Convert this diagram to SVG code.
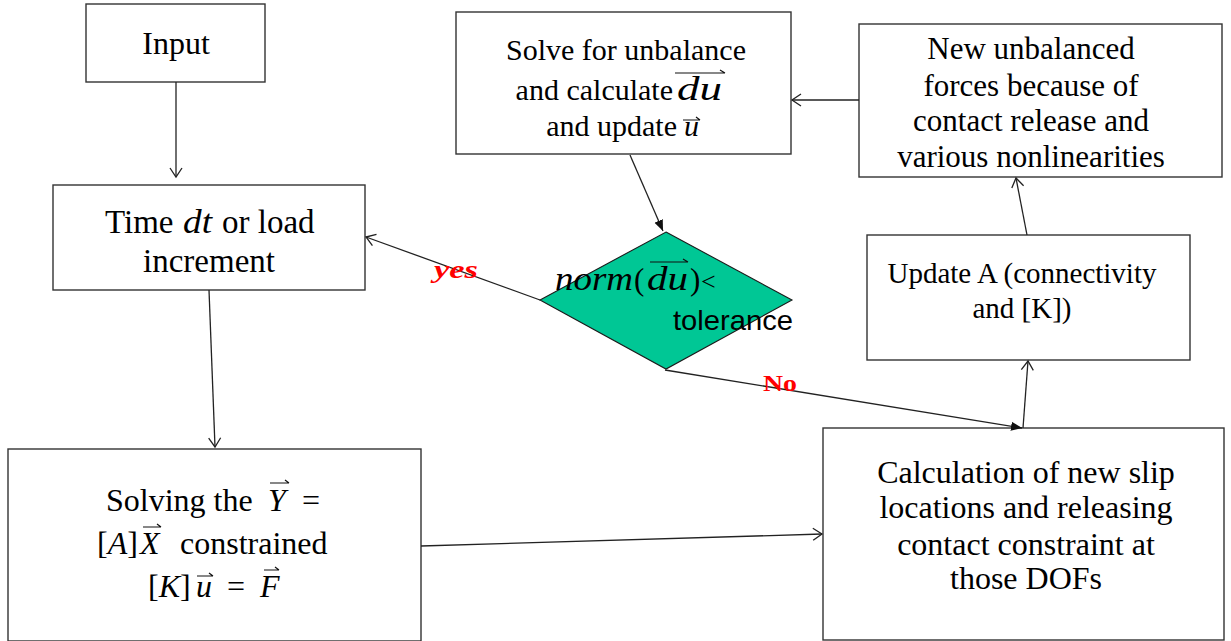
<svg xmlns="http://www.w3.org/2000/svg" width="1231" height="641" viewBox="0 0 1231 641">
<style>
.box{fill:#fff;stroke:#333;stroke-width:1.4}
.c{fill:none;stroke:#222;stroke-width:1.3}
.vec{fill:none;stroke:#111;stroke-width:1.2}
</style>
<defs>
<marker id="open" markerWidth="12" markerHeight="14" refX="10" refY="7" orient="auto" markerUnits="userSpaceOnUse">
<path d="M1,1 L10,7 L1,13" fill="none" stroke="#222" stroke-width="1.3"/>
</marker>
<marker id="fill" markerWidth="12" markerHeight="10" refX="11" refY="5" orient="auto" markerUnits="userSpaceOnUse">
<path d="M0,0.5 L11,5 L0,9.5 Z" fill="#111"/>
</marker>
</defs>

<g id="input">
<rect class="box" x="86" y="4" width="179" height="78"/>
<text x="176" y="54" font-family="Liberation Serif" font-size="32" text-anchor="middle">Input</text>
</g>

<g id="time">
<rect class="box" x="53" y="185" width="312" height="105"/>
<text x="105" y="233" font-family="Liberation Serif" font-size="33">Time</text>
<text x="183" y="233" font-family="Liberation Serif" font-size="33" font-style="italic" textLength="29" lengthAdjust="spacingAndGlyphs">dt</text>
<text x="222" y="233" font-family="Liberation Serif" font-size="33">or load</text>
<text x="209" y="272" font-family="Liberation Serif" font-size="33" text-anchor="middle">increment</text>
</g>

<g id="solving">
<rect class="box" x="8" y="449" width="413" height="192"/>
<text x="106" y="511" font-family="Liberation Serif" font-size="32">Solving the</text>
<text x="268" y="511" font-family="Liberation Serif" font-size="32" font-style="italic">Y</text>
<path class="vec" d="M270,483 L289,483 M285,480 L289,483"/>
<text x="302" y="511" font-family="Liberation Serif" font-size="32">=</text>
<text x="97" y="554" font-family="Liberation Serif" font-size="32">[<tspan font-style="italic">A</tspan>]</text>
<text x="140" y="554" font-family="Liberation Serif" font-size="32" font-style="italic">X</text>
<path class="vec" d="M143,527 L161,527 M157,524 L161,527"/>
<text x="180" y="554" font-family="Liberation Serif" font-size="32">constrained</text>
<text x="148" y="597" font-family="Liberation Serif" font-size="32">[<tspan font-style="italic">K</tspan>]</text>
<text x="196" y="597" font-family="Liberation Serif" font-size="32" font-style="italic">u</text>
<path class="vec" d="M197,576 L213,576 M209,573 L213,576"/>
<text x="227" y="597" font-family="Liberation Serif" font-size="32">=</text>
<text x="260" y="597" font-family="Liberation Serif" font-size="32" font-style="italic">F</text>
<path class="vec" d="M264,570 L279,570 M275,567 L279,570"/>
</g>

<g id="solve">
<rect class="box" x="456" y="12" width="335" height="142"/>
<text x="626" y="60" font-family="Liberation Serif" font-size="30" text-anchor="middle">Solve for unbalance</text>
<text x="673" y="100" font-family="Liberation Serif" font-size="30" text-anchor="end">and calculate</text>
<text x="677" y="100" font-family="Liberation Serif" font-size="34" font-style="italic" textLength="45" lengthAdjust="spacingAndGlyphs">du</text>
<path class="vec" d="M675,73 L725,73 M720,70 L725,73"/>
<text x="677" y="136" font-family="Liberation Serif" font-size="30" text-anchor="end">and update</text>
<text x="684" y="136" font-family="Liberation Serif" font-size="30" font-style="italic">u</text>
<path class="vec" d="M683,120 L700,120 M696,117 L700,120"/>
</g>

<g id="decision">
<polygon points="666,232 792,300 666,369 540,300" fill="#00C795" stroke="#1a1a1a" stroke-width="1.1"/>
<text x="555" y="290" font-family="Liberation Serif" font-size="34" font-style="italic" textLength="78" lengthAdjust="spacingAndGlyphs">norm</text>
<text x="634" y="290" font-family="Liberation Serif" font-size="31">(</text>
<text x="647" y="290" font-family="Liberation Serif" font-size="34" font-style="italic" textLength="41" lengthAdjust="spacingAndGlyphs">du</text>
<path class="vec" d="M650,262 L688,262 M683,259 L688,262"/>
<text x="690" y="290" font-family="Liberation Serif" font-size="31">)</text>
<text x="701" y="290" font-family="Liberation Serif" font-size="26">&lt;</text>
<text x="673" y="330" font-family="Liberation Sans" font-size="28" textLength="120" lengthAdjust="spacingAndGlyphs">tolerance</text>
</g>

<g id="newforces">
<rect class="box" x="859" y="24" width="363" height="153"/>
<text x="1031" y="59" font-family="Liberation Serif" font-size="31" text-anchor="middle">New unbalanced</text>
<text x="1031" y="96" font-family="Liberation Serif" font-size="31" text-anchor="middle">forces because of</text>
<text x="1031" y="131" font-family="Liberation Serif" font-size="31" text-anchor="middle">contact release and</text>
<text x="1031" y="167" font-family="Liberation Serif" font-size="31" text-anchor="middle">various nonlinearities</text>
</g>

<g id="update">
<rect class="box" x="867" y="235" width="323" height="125"/>
<text x="1022" y="283" font-family="Liberation Serif" font-size="29" text-anchor="middle">Update A (connectivity</text>
<text x="1022" y="318" font-family="Liberation Serif" font-size="29" text-anchor="middle">and [K])</text>
</g>

<g id="calc">
<rect class="box" x="823" y="428" width="401" height="212"/>
<text x="1026" y="483" font-family="Liberation Serif" font-size="32" text-anchor="middle">Calculation of new slip</text>
<text x="1026" y="518" font-family="Liberation Serif" font-size="32" text-anchor="middle">locations and releasing</text>
<text x="1026" y="555" font-family="Liberation Serif" font-size="32" text-anchor="middle">contact constraint at</text>
<text x="1026" y="589" font-family="Liberation Serif" font-size="32" text-anchor="middle">those DOFs</text>
</g>

<g id="connectors">
<line class="c" x1="176" y1="82" x2="176" y2="177" marker-end="url(#open)"/>
<line class="c" x1="209" y1="290" x2="215" y2="447" marker-end="url(#open)"/>
<line class="c" x1="421" y1="546" x2="822" y2="534" marker-end="url(#open)"/>
<line class="c" x1="1023" y1="428" x2="1028" y2="361" marker-end="url(#open)"/>
<line class="c" x1="1027" y1="235" x2="1016" y2="178" marker-end="url(#open)"/>
<line class="c" x1="859" y1="100" x2="792" y2="100" marker-end="url(#open)"/>
<line class="c" x1="630" y1="155" x2="663" y2="231" marker-end="url(#fill)"/>
<line class="c" x1="540" y1="300" x2="366" y2="237" marker-end="url(#open)"/>
<line class="c" x1="665" y1="370" x2="1022" y2="428" marker-end="url(#fill)"/>
<text x="434" y="278" font-family="Liberation Serif" font-size="26" font-style="italic" font-weight="bold" fill="#ff0000" textLength="44" lengthAdjust="spacingAndGlyphs">yes</text>
<text x="763" y="391" font-family="Liberation Serif" font-size="24" font-weight="bold" fill="#ff0000" textLength="34" lengthAdjust="spacingAndGlyphs">No</text>
</g>
</svg>
